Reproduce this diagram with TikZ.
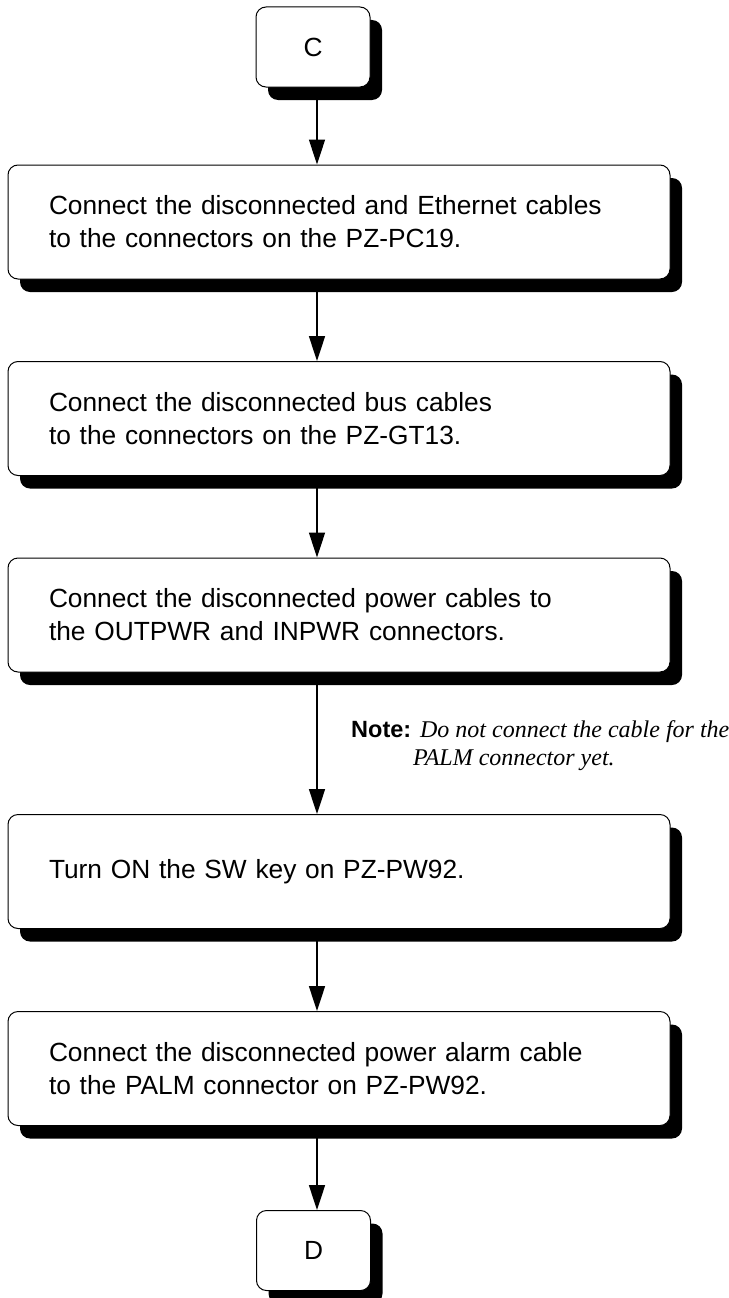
\documentclass[tikz,border=0pt]{standalone}
\usepackage{fontspec}
\setmainfont{Liberation Sans}
\newfontfamily\notefont{Liberation Serif}
\usetikzlibrary{arrows.meta, shadows, positioning}

\tikzset{
  boxbase/.style={draw, line width=1pt, rounded corners=10pt, fill=white,
    drop shadow={shadow xshift=12pt, shadow yshift=-13pt, fill=black, opacity=1},
    font=\fontsize{26.3}{33}\selectfont},
  stepbox/.style={boxbase, minimum width=662pt, minimum height=114pt,
    text width=580pt, inner xsep=41pt, align=left},
  termbox/.style={boxbase, minimum width=114pt, minimum height=80pt},
  flow/.style={-{Triangle[length=25pt, width=16pt]}, line width=1.6pt},
  notetext/.style={align=left, inner sep=0pt, font=\fontsize{24}{28}\selectfont}
}

\begin{document}
\begin{tikzpicture}[x=1pt, y=-1pt]
	\useasboundingbox (0,0) rectangle (728,1298);
	% terminals and steps
	\node[termbox] (c) at (313,47) {C};
	\node[stepbox] (s1) at (339,222) {Connect the disconnected and Ethernet cables\\to the connectors on the PZ-PC19.};
	\node[stepbox] (s2) at (339,418.5) {Connect the disconnected bus cables\\to the connectors on the PZ-GT13.};
	\node[stepbox] (s3) at (339,615) {Connect the disconnected power cables to\\the OUTPWR and INPWR connectors.};
	\node[stepbox] (s4) at (339,871.5) {Turn ON the SW key on PZ-PW92.};
	\node[stepbox] (s5) at (339,1068.5) {Connect the disconnected power alarm cable\\to the PALM connector on PZ-PW92.};
	\node[termbox] (d) at (313.5,1250.5) {D};
	% arrows
	\coordinate (axis) at (317,0);
	\draw[flow] (c.south -| axis) -- (s1.north -| axis);
	\draw[flow] (s1.south -| axis) -- (s2.north -| axis);
	\draw[flow] (s2.south -| axis) -- (s3.north -| axis);
	\draw[flow] (s3.south -| axis) -- (s4.north -| axis);
	\draw[flow] (s4.south -| axis) -- (s5.north -| axis);
	\draw[flow] (s5.south -| axis) -- (d.north -| axis);
	% note (base anchor sits on the last line)
	\node[notetext, anchor=base west] (note) at (351,765) {{\fontsize{23.5}{28}\selectfont\bfseries Note:} {\notefont\itshape Do not connect the cable for the}\\\hspace*{62pt}{\notefont\itshape PALM connector yet.}};
\end{tikzpicture}
\end{document}
